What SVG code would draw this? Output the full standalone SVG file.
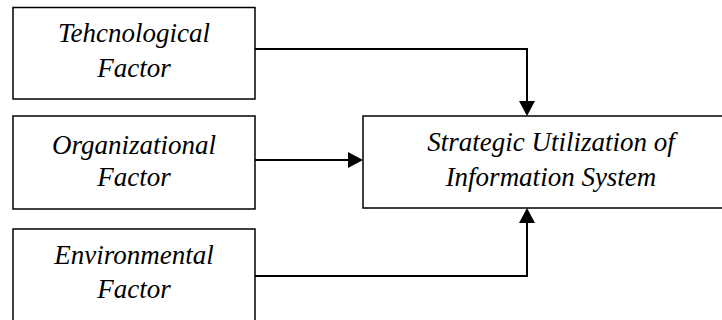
<svg xmlns="http://www.w3.org/2000/svg" width="722" height="320" viewBox="0 0 722 320">
<defs>
<style>
.box{fill:#fff;stroke:#000;stroke-width:1.5}
.t{font-family:"Liberation Serif","Times New Roman",serif;font-style:italic;font-size:27px;fill:#000;text-anchor:middle}
.c{fill:none;stroke:#000;stroke-width:2}
</style>
</defs>
<g id="tech">
<rect class="box" x="13" y="7.5" width="242" height="91.5"/>
<text class="t" x="134" y="42">Tehcnological</text>
<text class="t" x="134" y="77">Factor</text>
</g>
<g id="org">
<rect class="box" x="13" y="116" width="242" height="93"/>
<text class="t" x="134" y="154">Organizational</text>
<text class="t" x="134" y="186">Factor</text>
</g>
<g id="env">
<rect class="box" x="13" y="229" width="242" height="100"/>
<text class="t" x="134" y="264">Environmental</text>
<text class="t" x="134" y="298">Factor</text>
</g>
<g id="strategic">
<rect class="box" x="363" y="116" width="370" height="92"/>
<text class="t" x="551" y="151">Strategic Utilization of</text>
<text class="t" x="551" y="186">Information System</text>
</g>
<g id="connectors">
<path class="c" d="M255,49 H527 V101"/>
<path d="M519,101 L535,101 L527,116 z" fill="#000"/>
<path class="c" d="M255,160 H348"/>
<path d="M348,152 L348,168 L363,160 z" fill="#000"/>
<path class="c" d="M255,276 H527 V223"/>
<path d="M519,223 L535,223 L527,208 z" fill="#000"/>
</g>
</svg>
